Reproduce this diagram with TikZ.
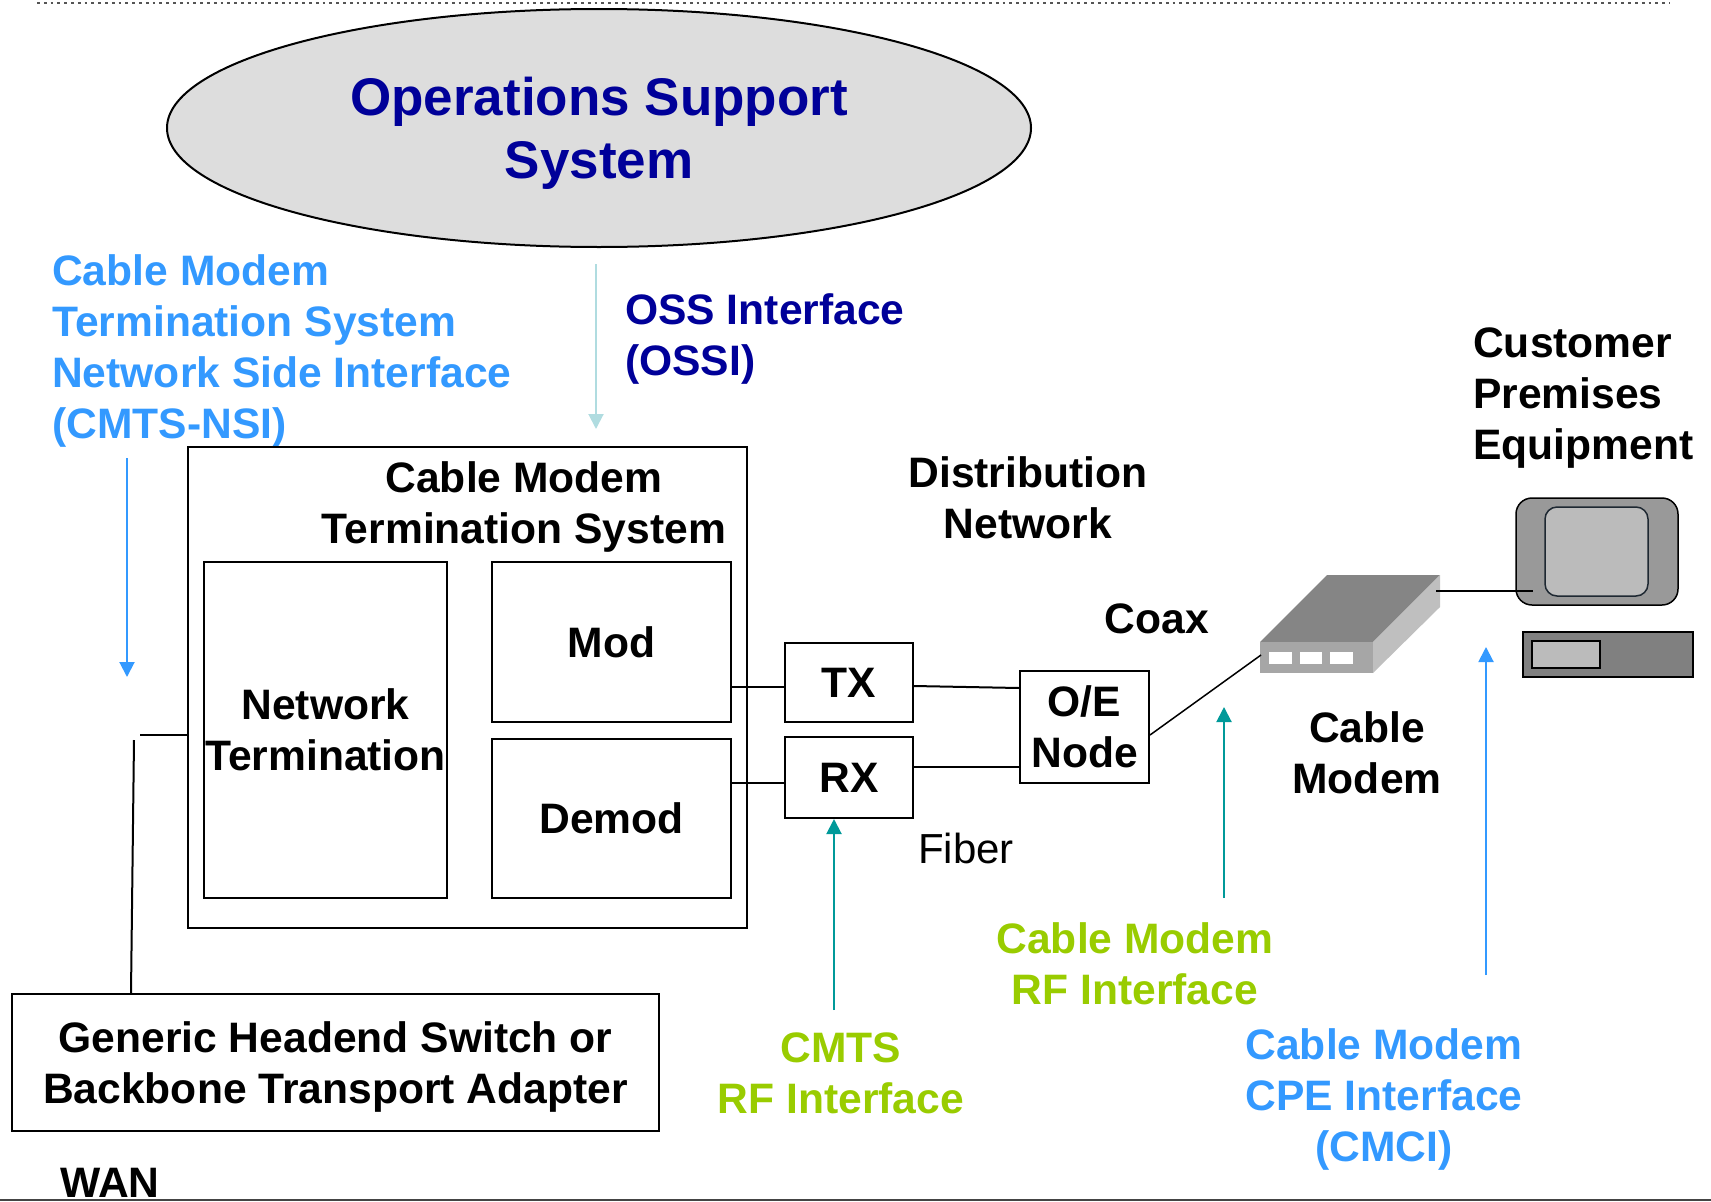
\documentclass[tikz,border=0pt]{standalone}
\usepackage{fontspec}
\setmainfont{Liberation Sans}
\usetikzlibrary{shapes.geometric,arrows.meta,calc}
\definecolor{ossnavy}{HTML}{000099}
\definecolor{ifblue}{HTML}{3399FF}
\definecolor{ifgreen}{HTML}{99CC00}
\definecolor{ifteal}{HTML}{009999}
\definecolor{osscyan}{HTML}{B0DCE0}
\definecolor{ossfill}{HTML}{DDDDDD}
\definecolor{rulegray}{HTML}{555555}
\begin{document}
\begin{tikzpicture}[x=1pt,y=-1pt,
  box/.style={draw=black,line width=2pt,rectangle,inner sep=0pt},
  lbl/.style={font=\fontsize{42.6}{51}\selectfont\bfseries,inner sep=0pt},
  wire/.style={draw=black,line width=2pt},
  thin wire/.style={draw=black,line width=1.5pt},
  arr/.style={line width=2pt,-{Triangle[width=15pt,length=15pt]}}
]
\useasboundingbox (0,0) rectangle (1711,1202);

% page rules
\draw[rulegray,line width=2.7pt,dash pattern=on 2.7pt off 4.1pt] (37,3) -- (1670,3);

% operations support system
\node[ellipse,draw=black,line width=2pt,fill=ossfill,minimum width=864pt,minimum height=238pt,inner sep=0pt,
      font=\fontsize{53}{63}\selectfont\bfseries,text=ossnavy,align=center] (oss) at (599,128)
  {Operations Support\\\raisebox{0pt}[\height][0pt]{System}};

% interface labels
\node[lbl,text=ifblue,align=left,anchor=west] (nsilbl) at (52,351)
  {Cable Modem\\Termination System\\Network Side Interface\\(CMTS-NSI)};
\node[lbl,text=ossnavy,align=left,anchor=west] (ossilbl) at (625,339)
  {OSS Interface\\(OSSI)};

% CMTS
\node[box,minimum width=559pt,minimum height=481pt] (cmts) at (467.5,687.5) {};
\node[lbl,align=center] (cmtslbl) at (524,506.5) {Cable Modem\\Termination System};
\node[box,lbl,align=center,minimum width=243pt,minimum height=336pt] (nt) at (325.5,730) {Network\\Termination};
\node[box,lbl,minimum width=239pt,minimum height=160pt] (mod) at (611.5,642) {Mod};
\node[box,lbl,minimum width=239pt,minimum height=159pt] (demod) at (611.5,818.5) {Demod};

% optical transceivers and node
\node[box,lbl,minimum width=128pt,minimum height=79pt] (tx) at (849,682.5) {TX};
\node[box,lbl,minimum width=128pt,minimum height=81pt] (rx) at (849,777.5) {RX};
\node[box,lbl,align=center,minimum width=129pt,minimum height=112pt] (oe) at (1084.5,727) {O/E\\Node};

% headend switch
\node[box,lbl,align=center,minimum width=647pt,minimum height=137pt] (generic) at (335.5,1062.5)
  {Generic Headend Switch or\\\raisebox{0pt}[\height][0pt]{Backbone Transport Adapter}};

% network labels
\node[lbl,align=center] (distlbl) at (1028,498) {Distribution\\Network};
\node[lbl] (coaxlbl) at (1157,618.5) {Coax};
\node[inner sep=0pt,font=\fontsize{42}{51}\selectfont] (fiberlbl) at (966,848.5) {Fiber};
\node[lbl,align=center] (cmlbl) at (1367,752.5) {Cable\\Modem};
\node[lbl,align=left,anchor=west] (cpelbl) at (1473,398) {Customer\\Premises\\Equipment};
\node[lbl,anchor=base west] (wanlbl) at (60,1197) {WAN};

% RF and CPE interface labels
\node[lbl,text=ifgreen,align=center] (cmrflbl) at (1135,963.5) {Cable Modem\\RF Interface};
\node[lbl,text=ifgreen,align=center] (cmtsrflbl) at (841,1073) {CMTS\\RF Interface};
\node[lbl,text=ifblue,align=center] (cmcilbl) at (1384,1099) {Cable Modem\\CPE Interface\\(CMCI)};

% cable modem device
\fill[fill={rgb,255:red,133;green,133;blue,133}] (1260,642) -- (1327,575) -- (1440,575) -- (1373,642) -- cycle;
\fill[fill={rgb,255:red,191;green,191;blue,191}] (1373,642) -- (1440,575) -- (1440,607) -- (1373,673) -- cycle;
\fill[fill={rgb,255:red,166;green,166;blue,166}] (1260,642) rectangle (1373,673);
\fill[white] (1269,652) rectangle (1292,664);
\fill[white] (1300,652) rectangle (1322,664);
\fill[white] (1330,652) rectangle (1353,664);
\coordinate (cmport) at (1261,655);
\coordinate (cmback) at (1436,591);

% personal computer
\draw[fill={rgb,255:red,153;green,153;blue,153},line width=1.5pt,rounded corners=16pt] (1516,498) rectangle (1678,605);
\draw[fill={rgb,255:red,187;green,187;blue,187},draw={rgb,255:red,30;green,40;blue,50},line width=1.5pt,rounded corners=12pt] (1545,507) rectangle (1648,596);
\draw[fill={rgb,255:red,128;green,128;blue,128},line width=1.5pt] (1523,632) rectangle (1693,677);
\draw[fill={rgb,255:red,187;green,187;blue,187},line width=1.5pt] (1532,641) rectangle (1600,668);
\coordinate (pcport) at (1533,591);

% connections
\coordinate (m1) at ($(mod.east)+(0,45)$);
\draw[wire] (m1) -- (m1 -| tx.west);
\coordinate (d1) at ($(demod.east)+(0,-35.5)$);
\draw[wire] (d1) -- (d1 -| rx.west);
\draw[wire] ($(tx.east)+(0,3.5)$) -- ($(oe.west)+(0,-39)$);
\coordinate (r1) at ($(rx.east)+(0,-10.5)$);
\draw[wire] (r1) -- (r1 -| oe.west);
\draw[thin wire] ($(oe.east)+(0,8)$) -- (cmport);
\draw[thin wire] (cmback) -- (pcport);
\coordinate (nsiA) at (140,735);
\draw[wire] (nsiA) -- (nsiA -| cmts.west);
\coordinate (nsiB) at (134,740);
\draw[wire] (nsiB) -- ($(generic.north west)+(120,0)$);

% interface arrows
\coordinate (ossA) at (596,264);
\coordinate (ossB) at (596,429);
\draw[arr,osscyan] (ossA) -- (ossB);
\coordinate (nsiT) at (127,458);
\coordinate (nsiH) at (127,677);
\draw[arr,ifblue] (nsiT) -- (nsiH);
\coordinate (rfT) at (834,1010);
\draw[arr,ifteal] (rfT) -- (rfT |- rx.south);
\coordinate (cmrfT) at (1224,898);
\coordinate (cmrfH) at (1224,707);
\draw[arr,ifteal] (cmrfT) -- (cmrfH);
\coordinate (cmciT) at (1486,975);
\coordinate (cmciH) at (1486,647);
\draw[arr,ifblue] (cmciT) -- (cmciH);

\draw[rulegray!80!black,line width=2.5pt] (0,1200) -- (1711,1200);
\end{tikzpicture}
\end{document}
